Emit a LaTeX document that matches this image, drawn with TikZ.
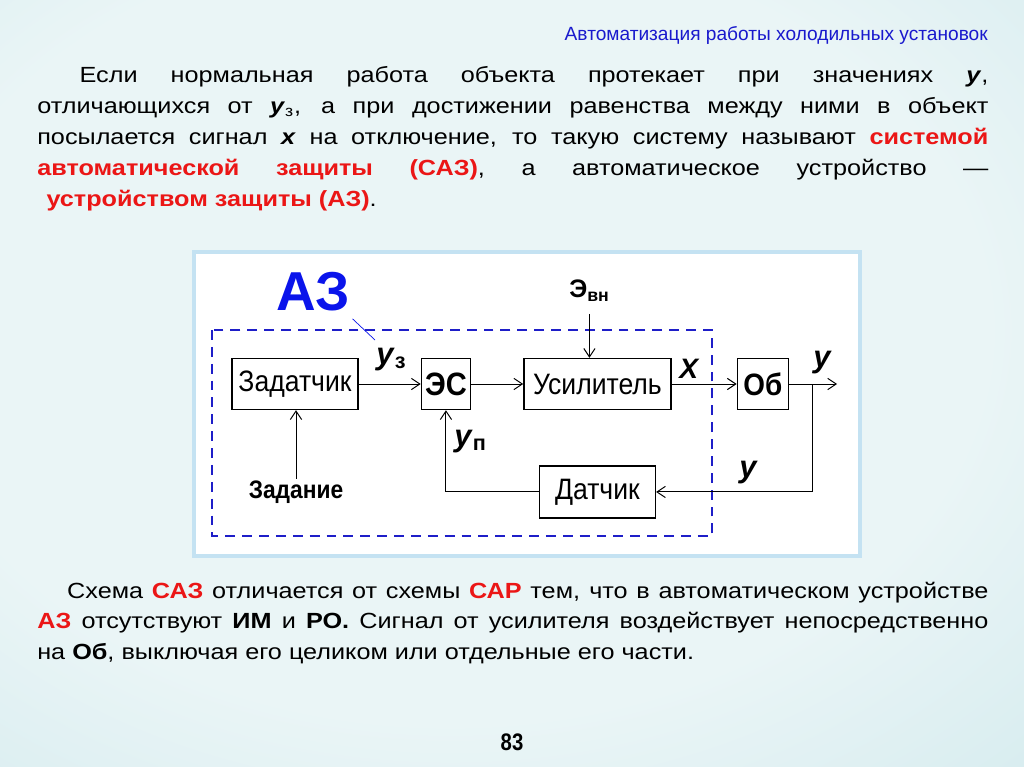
\documentclass[tikz,border=0pt]{standalone}
\usepackage{fontspec}
\setmainfont{Liberation Sans}
\usepackage{graphicx}
\usetikzlibrary{positioning}
\usetikzlibrary{calc}
\usetikzlibrary{arrows.meta}

\definecolor{slidebg}{RGB}{186,223,229}
\definecolor{slidelight}{RGB}{234,245,246}
\definecolor{headblue}{RGB}{25,25,205}
\definecolor{hotred}{RGB}{235,22,22}
\definecolor{azblue}{RGB}{10,20,235}
\definecolor{dashblue}{RGB}{30,30,200}
\definecolor{framepale}{RGB}{196,226,242}

\pgfdeclareradialshading{slideglow}{\pgfpoint{0bp}{0bp}}{%
  color(0bp)=(slidelight); color(20bp)=(slidelight); color(50bp)=(slidebg); color(80bp)=(slidebg)}

\newcommand{\narrowtext}[2][0.9]{\scalebox{#1}[1]{#2}}
\newcommand{\hl}[1]{\textcolor{hotred}{\textbf{#1}}}
\newcommand{\sym}[1]{\textbf{\textit{#1}}}

\tikzset{
  blk/.style={draw, line width=1pt, inner sep=0pt, minimum height=1.275cm, font=\fontsize{21}{24}\selectfont},
  sig/.style={line width=0.7pt, -{Straight Barb[length=6pt,width=8pt,line width=0.7pt]}},
  lbl/.style={inner sep=0pt, font=\fontsize{22}{24}\selectfont},
  para/.style={inner sep=0pt, transform shape, xscale=1.15, text width=20.67cm, align=justify, font=\fontsize{15.6}{22}\selectfont},
}

\begin{document}
\begin{tikzpicture}[x=0.025cm, y=-0.025cm]
    \useasboundingbox (0,0) rectangle (1024,767);
    \begin{scope}
        \clip (0,0) rectangle (1024,767);
        \shade[shading=slideglow] (-220,-160) rectangle (1120,820);
    \end{scope}

    \node[anchor=base east, inner sep=0pt, text=headblue, font=\fontsize{13.6}{15}\selectfont] (title) at (988,41) {Автоматизация работы холодильных установок};

    \node[para, anchor=base west] (intro) at (37,83) {\tolerance=10000\hbadness=10000\hyphenpenalty=10000
        \hspace*{0.92cm}Если нормальная работа объекта протекает при значениях \sym{у},\linebreak
        отличающихся от \sym{у}\textsubscript{з}, а при достижении равенства между ними в объект\linebreak
        посылается сигнал \sym{х} на отключение, то такую систему называют \hl{системой}\linebreak
        \hl{автоматической защиты (САЗ)}, а автоматическое устройство —\linebreak
        \hspace*{0.2cm}\hl{устройством защиты (АЗ)}.};

    % panel with the scheme
    \draw[framepale, line width=2.5pt, fill=white] (194,252) rectangle (860,556);
    \draw[dashblue, line width=1pt, dash pattern=on 7pt off 5pt] (212,330) rectangle (712,536);

    \node[blk, minimum width=3.15cm] (zad) at (295,384) {\narrowtext{Задатчик}};
    \node[blk, minimum width=1.225cm, right=1.55cm of zad, font=\fontsize{23}{24}\selectfont\bfseries] (es) {\narrowtext{ЭС}};
    \node[blk, minimum width=3.675cm, right=1.3cm of es] (amp) {\narrowtext{Усилитель}};
    \node[blk, minimum width=1.275cm, right=1.625cm of amp, font=\fontsize{22}{24}\selectfont\bfseries] (ob) {\narrowtext{Об}};
    \node[blk, minimum width=2.9cm, minimum height=1.3cm, below=1.375cm of amp] (dat) {\narrowtext{Датчик}};

    \node[anchor=base west, inner sep=0pt, text=azblue, font=\fontsize{39}{40}\selectfont\bfseries] (az) at (276,310) {АЗ};
    \node[lbl, anchor=base west] (yz) at (376,364) {\sym{у}\textsubscript{\textbf{з}}};
    \node[lbl, anchor=base west] (yp) at (454,446) {\sym{у}\textsubscript{\textbf{п}}};
    \node[lbl, anchor=base west, font=\fontsize{20}{22}\selectfont] (xo) at (679,378) {\sym{Х}};
    \node[lbl, anchor=base west] (yo) at (813,367) {\sym{у}};
    \node[lbl, anchor=base west] (yf) at (739,477) {\sym{у}};
    \node[lbl, anchor=base west, font=\fontsize{18}{20}\selectfont\bfseries] (ev) at (569,298) {Э\textsubscript{вн}};
    \node[inner sep=1pt, anchor=base, font=\fontsize{18}{20}\selectfont\bfseries] (task) at (296,498) {\narrowtext{Задание}};

    \coordinate (tap) at ($(ob.east)+(23,0)$);
    \coordinate (yend) at ($(ob.east)+(48,0)$);
    \coordinate (azpin) at (375,340);

    \draw[sig] (zad) -- (es);
    \draw[sig] (es) -- (amp);
    \draw[sig] (amp) -- (ob);
    \draw[sig] (ob) -- (yend);
    \draw[sig] (tap) |- (dat);
    \draw[sig] (dat) -| (es);
    \draw[sig] (task.north) -- (task.north |- zad.south);
    \draw[sig] ([yshift=-0.3cm]ev.south) -- (ev.south |- amp.north);
    \draw[azblue, line width=0.5pt] ([shift={(2,8)}]az.south east) -- (azpin);

    \node[para, anchor=base west] (outro) at (37,598) {\tolerance=10000\hbadness=10000\hyphenpenalty=10000
        \hspace*{0.65cm}Схема \hl{САЗ} отличается от схемы \hl{САР} тем, что в автоматическом устройстве\linebreak
        \hl{АЗ} отсутствуют \textbf{ИМ} и \textbf{РО.} Сигнал от усилителя воздействует непосредственно\linebreak
        на \textbf{Об}, выключая его целиком или отдельные его части.};

    \node[anchor=base, inner sep=0pt, font=\fontsize{17}{18}\selectfont\bfseries] (pageno) at (512,750) {\narrowtext[0.85]{83}};
\end{tikzpicture}
\end{document}
